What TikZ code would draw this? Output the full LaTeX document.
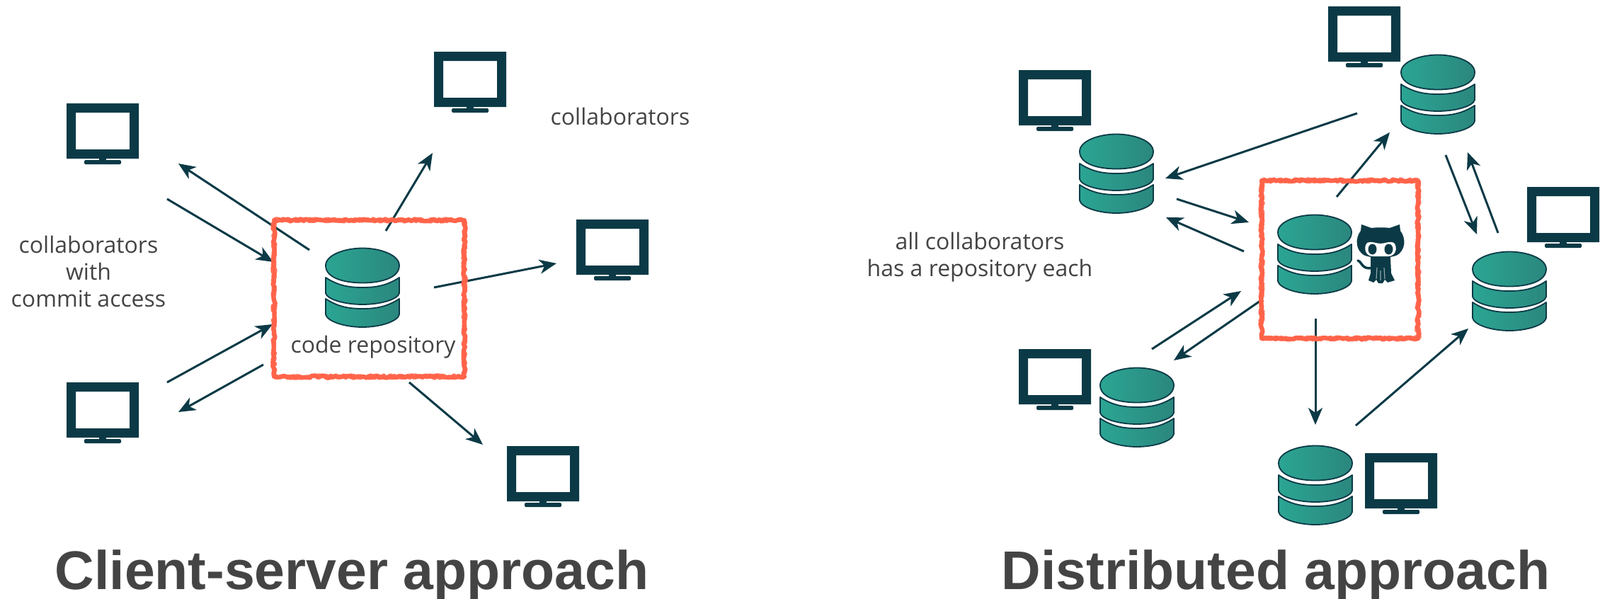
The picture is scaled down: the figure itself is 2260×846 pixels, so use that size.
\documentclass[tikz,border=0pt]{standalone}
\usepackage{fontspec}
\setmainfont{Open Sans}
\newfontfamily\titlefont{Liberation Sans}
\usetikzlibrary{arrows.meta,decorations.pathmorphing}
\definecolor{ink}{HTML}{0B3A46}
\definecolor{dbl}{HTML}{2BA593}
\definecolor{dbr}{HTML}{2B877E}
\definecolor{redbox}{HTML}{FF6248}
\definecolor{txt}{HTML}{444444}
\tikzset{
  arr/.style={draw=ink,line width=3pt,-{Stealth[length=24pt,width=20pt,inset=7pt]}},
  lbl/.style={text=txt,font=\fontsize{32}{38}\selectfont,align=center,inner sep=0pt},
  ttl/.style={text=txt,font=\titlefont\bfseries\fontsize{77}{80}\selectfont,anchor=base,inner sep=0pt},
  rough/.style={draw=redbox,line width=6pt,line join=round,decorate,decoration={random steps,segment length=3pt,amplitude=1.8pt}},
  disc/.style={left color=dbl,right color=dbr,draw=ink,line width=1.8pt,line join=round},
  monitor/.pic={
    \fill[ink,even odd rule] (-51,-39) rectangle (51,39) (-38,-26) rectangle (38,26);
    \fill[ink] (-5,38) rectangle (5,44);
    \fill[ink,rounded corners=1.5pt] (-26,41) rectangle (26,47);
  },
  db/.pic={
    \draw[disc] (-52,16) .. controls (-35,27) and (-20,30) .. (0,30) .. controls (20,30) and (35,27) .. (52,16) -- (52,38)
       .. controls (50,48) and (25,56) .. (0,56) .. controls (-25,56) and (-50,48) .. (-52,38) -- cycle;
    \draw[disc] (-52,-14) .. controls (-35,-3) and (-20,0) .. (0,0) .. controls (20,0) and (35,-3) .. (52,-14) -- (52,8)
       .. controls (50,17) and (25,24) .. (0,24) .. controls (-25,24) and (-50,17) .. (-52,8) -- cycle;
    \draw[disc] (-52,-31) .. controls (-52,-13) and (-25,-6.5) .. (0,-6.5) .. controls (25,-6.5) and (52,-13) .. (52,-31)
       .. controls (52,-46) and (25,-55.5) .. (0,-55.5) .. controls (-25,-55.5) and (-52,-46) .. (-52,-31) -- cycle;
  },
  octocat/.pic={
    \fill[ink] (-28,-32) -- (-27,-41) -- (-13,-36) .. controls (-5,-37) and (5,-37) .. (13,-36) -- (27,-41) -- (28,-32)
       .. controls (36,-22) and (36,-4) .. (22,3) .. controls (10,7) and (-10,7) .. (-22,3) .. controls (-36,-4) and (-36,-22) .. (-28,-32) -- cycle;
    \fill[white] (-19,-15) .. controls (-12,-18) and (-7,-14) .. (0,-14) .. controls (7,-14) and (12,-18) .. (19,-15)
       .. controls (25,-8) and (21,4) .. (11,4) -- (-11,4) .. controls (-21,4) and (-25,-8) .. (-19,-15) -- cycle;
    \fill[ink] (-11.5,-6) ellipse [x radius=6,y radius=7.5];
    \fill[ink] (11.5,-6) ellipse [x radius=6,y radius=7.5];
    \fill[ink,line join=round] (-14,5) -- (14,5) -- (15,28) -- (20,38) -- (10,41) -- (6,37) -- (3,42) -- (-3,42) -- (-6,37) -- (-10,41) -- (-17,38) -- (-14,28) -- cycle;
    \draw[white,line width=1.2pt,opacity=.55] (-5,20) -- (-6,36) (5,20) -- (6,36) (0,24) -- (0,38);
    \draw[ink,line width=3.5pt,line cap=round] (-32,10) .. controls (-26,12) and (-26,24) .. (-11,20);
  }
}
\begin{document}
\begin{tikzpicture}[x=1pt,y=-1pt]
\useasboundingbox (0,0) rectangle (2260,846);
\fill[white] (0,0) rectangle (2260,846);
% arrow end points
\foreach \n/\x/\y in {
 a/437/353, b/252/231, c/236/281, d/386/370, e/545/326, f/611/216, g/613/406, h/786/372,
 i/236/540, j/385/458, k/372/515, l/252/582, m/578/540, n/682/628,
 o/1917/160, p/1646/252, q/1888/278, r/1963/187, s/1662/281, t/1764/314, u/1757/355, v/1647/307,
 w/1627/493, aa/1753/411, ab/1780/425, ac/1658/509, ad/1858/450, ae/1858/600, af/1915/601, ag/2074/464,
 ah/2042/219, ai/2086/331, aj/2116/329, ak/2073/215}
 {\coordinate (\n) at (\x,\y);}
\foreach \s/\e in {a/b,c/d,e/f,g/h,i/j,k/l,m/n,o/p,q/r,s/t,u/v,w/aa,ab/ac,ad/ae,af/ag,ah/ai,aj/ak}
 {\draw[arr] (\s) -- (\e);}
% monitors
\pic at (145,185) {monitor};
\pic at (664,112) {monitor};
\pic at (865,349) {monitor};
\pic at (145,579) {monitor};
\pic at (767,669) {monitor};
\pic at (1927,48) {monitor};
\pic at (1490,138) {monitor};
\pic at (2208,303) {monitor};
\pic at (1490,532) {monitor};
\pic at (1979,679) {monitor};
% databases
\pic at (512,406) {db};
\pic at (2031,133) {db};
\pic at (1577,245) {db};
\pic at (1857,359) {db};
\pic at (2132,411) {db};
\pic at (1606,575) {db};
\pic at (1858,685) {db};
\pic at (1950,358) {octocat};
% red boxes
\foreach \i in {1,2}{
\draw[rough,opacity=.9] (387,311) rectangle (656,532);
\draw[rough,opacity=.9] (1782,255) rectangle (2003,478);
}
% labels
\node[lbl] (t1) at (876,164) {collaborators};
\node[lbl] (t2) at (125,383) {collaborators\\with\\commit access};
\node[lbl] (t3) at (1384,363) {all collaborators\\has a repository each};
\node[lbl] (t4) at (527,490) {code repository};
\node[ttl] (t5) at (497,832) {Client-server approach};
\node[ttl] (t6) at (1802,832) {Distributed approach};
\end{tikzpicture}
\end{document}
